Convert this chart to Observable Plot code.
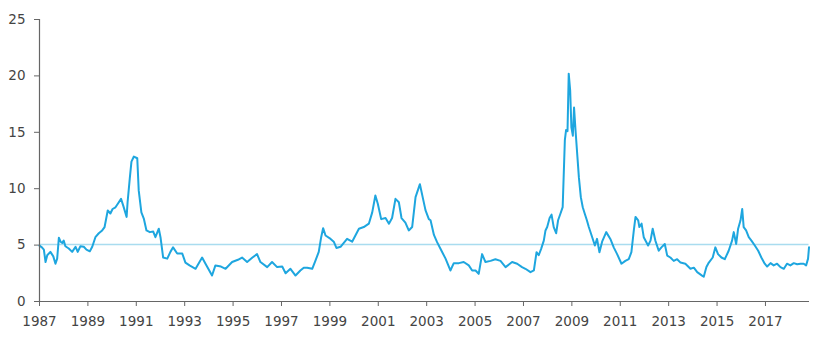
<!DOCTYPE html>
<html>
<head>
<meta charset="utf-8">
<script src="https://cdn.jsdelivr.net/npm/d3@7"></script>
<script src="https://cdn.jsdelivr.net/npm/@observablehq/plot@0.6"></script>
<style>
  html, body { margin: 0; padding: 0; background: #fff; }
  #chart { width: 827px; height: 345px; }
</style>
</head>
<body>
<div id="chart"></div>
<script>
// Decimal years of each reading
const years = [
  1987.00, 1987.10, 1987.18, 1987.25, 1987.32, 1987.45, 1987.57, 1987.66, 1987.73, 1987.80,
  1987.87, 1987.94, 1988.00, 1988.07, 1988.21, 1988.35, 1988.49, 1988.58, 1988.69, 1988.83,
  1988.94, 1989.08, 1989.18, 1989.31, 1989.45, 1989.59, 1989.69, 1989.82, 1989.93, 1990.02,
  1990.14, 1990.23, 1990.37, 1990.46, 1990.60, 1990.64, 1990.73, 1990.80, 1990.90, 1991.04,
  1991.10, 1991.21, 1991.31, 1991.42, 1991.56, 1991.70, 1991.79, 1991.93, 1992.00, 1992.11,
  1992.28, 1992.41, 1992.52, 1992.69, 1992.90, 1993.03, 1993.20, 1993.45, 1993.72, 1993.86,
  1994.13, 1994.27, 1994.50, 1994.69, 1994.96, 1995.20, 1995.37, 1995.58, 1995.80, 1995.99,
  1996.13, 1996.41, 1996.61, 1996.82, 1997.03, 1997.17, 1997.37, 1997.58, 1997.78, 1997.92,
  1998.06, 1998.27, 1998.40, 1998.54, 1998.64, 1998.72, 1998.82, 1999.03, 1999.16, 1999.27,
  1999.44, 1999.71, 1999.92, 2000.20, 2000.40, 2000.61, 2000.75, 2000.88, 2000.98, 2001.12,
  2001.30, 2001.44, 2001.57, 2001.71, 2001.85, 2001.96, 2002.12, 2002.26, 2002.40, 2002.54,
  2002.72, 2002.85, 2002.95, 2003.09, 2003.16, 2003.30, 2003.43, 2003.57, 2003.78, 2003.98,
  2004.12, 2004.33, 2004.53, 2004.74, 2004.88, 2005.02, 2005.15, 2005.29, 2005.43, 2005.64,
  2005.84, 2006.05, 2006.26, 2006.53, 2006.74, 2006.94, 2007.08, 2007.29, 2007.43, 2007.54,
  2007.63, 2007.73, 2007.84, 2007.91, 2007.98, 2008.08, 2008.16, 2008.25, 2008.35, 2008.43,
  2008.53, 2008.62, 2008.71, 2008.76, 2008.82, 2008.87, 2008.93, 2008.98, 2009.04, 2009.09,
  2009.15, 2009.23, 2009.29, 2009.37, 2009.45, 2009.53, 2009.62, 2009.70, 2009.84, 2009.95,
  2010.04, 2010.14, 2010.25, 2010.42, 2010.59, 2010.73, 2010.87, 2011.05, 2011.21, 2011.35,
  2011.46, 2011.56, 2011.63, 2011.74, 2011.79, 2011.88, 2011.97, 2012.15, 2012.25, 2012.34,
  2012.45, 2012.59, 2012.70, 2012.84, 2012.94, 2013.07, 2013.21, 2013.35, 2013.49, 2013.69,
  2013.90, 2014.04, 2014.18, 2014.38, 2014.45, 2014.56, 2014.66, 2014.82, 2014.93, 2015.04,
  2015.18, 2015.32, 2015.48, 2015.62, 2015.69, 2015.79, 2015.87, 2015.97, 2016.04, 2016.10,
  2016.20, 2016.31, 2016.42, 2016.56, 2016.70, 2016.83, 2016.97, 2017.07, 2017.21, 2017.34,
  2017.48, 2017.62, 2017.76, 2017.89, 2018.03, 2018.17, 2018.31, 2018.45, 2018.58, 2018.68,
  2018.76, 2018.80
];

// Series values
const values = [
  4.95, 4.8, 4.6, 3.5, 4.1, 4.4, 4.0, 3.35, 3.8, 5.65,
  5.3, 5.2, 5.4, 4.9, 4.7, 4.4, 4.85, 4.4, 4.9, 4.85,
  4.6, 4.45, 4.85, 5.7, 6.05, 6.3, 6.6, 8.07, 7.8, 8.2,
  8.35, 8.65, 9.1, 8.5, 7.5, 8.8, 10.9, 12.4, 12.85, 12.7,
  9.85, 7.9, 7.35, 6.3, 6.15, 6.2, 5.7, 6.45, 5.7, 3.9,
  3.8, 4.4, 4.8, 4.25, 4.25, 3.45, 3.2, 2.9, 3.9, 3.35,
  2.3, 3.2, 3.1, 2.9, 3.5, 3.7, 3.9, 3.5, 3.9, 4.2,
  3.5, 3.05, 3.5, 3.05, 3.1, 2.5, 2.9, 2.3, 2.75, 3.0,
  3.0, 2.9, 3.6, 4.4, 5.7, 6.5, 5.85, 5.55, 5.3, 4.75,
  4.85, 5.55, 5.3, 6.45, 6.6, 6.9, 7.9, 9.4, 8.66, 7.3,
  7.4, 6.9, 7.4, 9.1, 8.8, 7.4, 7.0, 6.3, 6.6, 9.25,
  10.4, 9.1, 8.1, 7.3, 7.2, 5.9, 5.26, 4.67, 3.8, 2.75,
  3.4, 3.4, 3.5, 3.2, 2.75, 2.75, 2.45, 4.2, 3.5, 3.6,
  3.75, 3.6, 3.05, 3.5, 3.35, 3.05, 2.9, 2.6, 2.75, 4.37,
  4.1, 4.67, 5.4, 6.3, 6.6, 7.4, 7.7, 6.6, 6.05, 7.2,
  7.8, 8.36, 14.3, 15.2, 15.1, 20.2, 18.7, 15.45, 14.7, 17.2,
  15.2, 12.8, 11.0, 9.25, 8.36, 7.8, 7.2, 6.6, 5.7, 4.96,
  5.55, 4.37, 5.3, 6.15, 5.55, 4.8, 4.2, 3.35, 3.6, 3.75,
  4.37, 6.3, 7.5, 7.2, 6.6, 6.9, 5.7, 4.96, 5.4, 6.45,
  5.4, 4.5, 4.8, 5.1, 4.07, 3.9, 3.6, 3.75, 3.45, 3.35,
  2.9, 3.0, 2.6, 2.3, 2.2, 3.05, 3.45, 3.9, 4.8, 4.2,
  3.9, 3.75, 4.5, 5.4, 6.15, 5.1, 6.45, 7.2, 8.2, 6.6,
  6.3, 5.7, 5.4, 4.96, 4.5, 3.9, 3.35, 3.1, 3.4, 3.2,
  3.35, 3.05, 2.9, 3.35, 3.2, 3.4, 3.3, 3.35, 3.35, 3.2,
  3.8, 4.8
];

// Long-run average reference level
const averageLevel = [5.05];

// Axis ticks
const xTicks = [1987, 1989, 1991, 1993, 1995, 1997, 1999, 2001, 2003, 2005, 2007, 2009, 2011, 2013, 2015, 2017];
const yTicks = [0, 5, 10, 15, 20, 25];
const xDomain = [1987, 2018.82];
const yDomain = [0, 25];

const data = years.map((year, i) => ({year, value: values[i]}));

const chart = Plot.plot({
  width: 827,
  height: 345,
  marginLeft: 39,
  marginRight: 18,
  marginTop: 19,
  marginBottom: 44,
  style: {fontFamily: "DejaVu Sans", fontSize: "13.5px", color: "#555", background: "#fff"},
  x: {domain: xDomain, label: null},
  y: {domain: yDomain, label: null},
  marks: [
    Plot.axisX({ticks: xTicks, tickFormat: d => String(d), tickSize: 5, tickPadding: 10, fill: "#444", stroke: "#666", label: null}),
    Plot.axisY({ticks: yTicks, tickSize: 5, tickPadding: 9, fill: "#444", stroke: "#666", label: null}),
    Plot.ruleY(averageLevel, {x1: years[0], x2: years[years.length - 1], stroke: "#a9dcef", strokeWidth: 1.6}),
    Plot.lineY(data, {x: "year", y: "value", stroke: "#1ea6df", strokeWidth: 2, strokeLinejoin: "round"}),
    Plot.ruleY([0], {stroke: "#666", strokeWidth: 1.2}),
    Plot.ruleX([xDomain[0]], {stroke: "#666", strokeWidth: 1.2})
  ]
});
document.getElementById("chart").appendChild(chart);
</script>
</body>
</html>
